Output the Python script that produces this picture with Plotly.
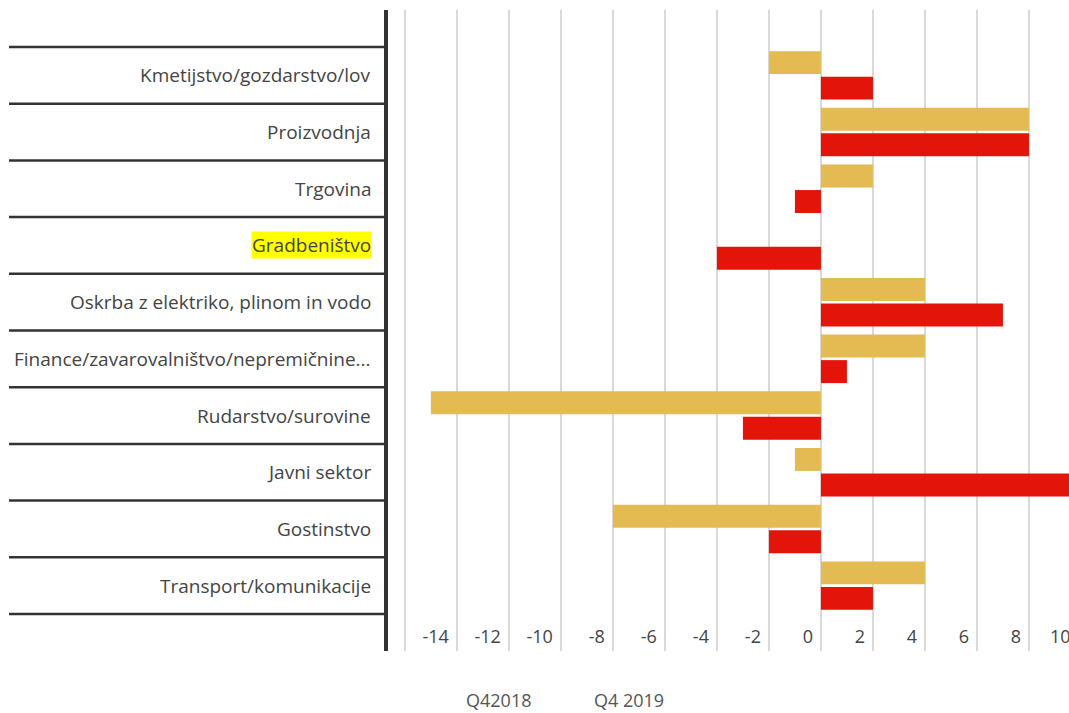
import plotly.graph_objects as go

categories = [
    "Kmetijstvo/gozdarstvo/lov",
    "Proizvodnja",
    "Trgovina",
    "Gradbeništvo",
    "Oskrba z elektriko, plinom in vodo",
    "Finance/zavarovalništvo/nepremičnine...",
    "Rudarstvo/surovine",
    "Javni sektor",
    "Gostinstvo",
    "Transport/komunikacije",
]
q4_2018 = [-2, 8, 2, 0, 4, 4, -15, -1, -8, 4]
q4_2019 = [2, 8, -1, -4, 7, 1, -3, 10, -2, 2]
series_names = ["Q42018", "Q4 2019"]
tick_values = [-16, -14, -12, -10, -8, -6, -4, -2, 0, 2, 4, 6, 8]
tick_labels = ["", "-14", "-12", "-10", "-8", "-6", "-4", "-2", "0", "2", "4", "6", "8"]
extra_tick_value = 10
extra_tick_label = "10"

YELLOW = "#E4BA53"
RED = "#E3150A"
FONT = "Open Sans"

W, H = 1069, 713
ml, mr, mt, mb = 388, 0, 10, 62
pw = W - ml - mr
ph = H - mt - mb

x_range = [-16.65, 9.54]
y_range = [10.153, -1.153]

fig = go.Figure()
idx = list(range(len(categories)))
fig.add_trace(go.Bar(y=idx, x=q4_2018, orientation="h", name=series_names[0],
                     marker=dict(color=YELLOW, line=dict(width=0))))
fig.add_trace(go.Bar(y=idx, x=q4_2019, orientation="h", name=series_names[1],
                     marker=dict(color=RED, line=dict(width=0))))

fig.update_layout(
    width=W, height=H,
    margin=dict(l=ml, r=mr, t=mt, b=mb),
    paper_bgcolor="white", plot_bgcolor="white",
    barmode="group", bargap=0.1, bargroupgap=0.1,
    showlegend=False,
    font=dict(family=FONT, size=19, color="#444"),
    xaxis=dict(
        range=x_range, tickmode="array", tickvals=tick_values, ticktext=tick_labels,
        showgrid=True, gridcolor="#d9d9d9", gridwidth=2, zeroline=False,
        showline=False, ticks="", ticklabelposition="inside left",
        ticklabelshift=-8, ticklabelstandoff=-2,
        tickfont=dict(family=FONT, size=18, color="#444"),
    ),
    yaxis=dict(
        range=y_range, showgrid=False, zeroline=False, showticklabels=False,
        showline=True, linecolor="#333", linewidth=4, ticks="",
    ),
)

# category separator lines in the label area
for k in range(len(categories) + 1):
    fig.add_shape(type="line", xref="paper", yref="y",
                  x0=-(ml - 9) / pw, x1=-2 / pw, y0=k - 0.5, y1=k - 0.5,
                  line=dict(color="#333", width=2.5))

# category labels
for i, c in enumerate(categories):
    fig.add_annotation(
        xref="paper", yref="y", x=0, y=i, xshift=-16, xanchor="right", yanchor="middle",
        text=c, showarrow=False, font=dict(family=FONT, size=19, color="#444"),
        bgcolor="#ffff00" if c == "Gradbeništvo" else None, borderpad=0,
    )

# last tick label, which lies past the visible axis range (cut by the edge)
fig.add_annotation(
    xref="paper", yref="paper",
    x=(extra_tick_value - x_range[0]) / (x_range[1] - x_range[0]), y=0,
    xshift=-8, yshift=1, xanchor="right", yanchor="bottom",
    text=extra_tick_label, showarrow=False, font=dict(family=FONT, size=18, color="#444"),
)

# legend texts
for name, xc in zip(series_names, [498, 629]):
    fig.add_annotation(
        xref="paper", yref="paper", x=(xc - ml) / pw, y=-(H - (mt + ph)) / ph,
        xanchor="center", yanchor="bottom", text=name, showarrow=False, borderpad=0,
        font=dict(family=FONT, size=18, color="#555"),
    )

fig.write_html(
    "out.html",
    config={"displayModeBar": False},
    post_script="document.body.style.margin='0';document.body.style.overflow='hidden';",
)
